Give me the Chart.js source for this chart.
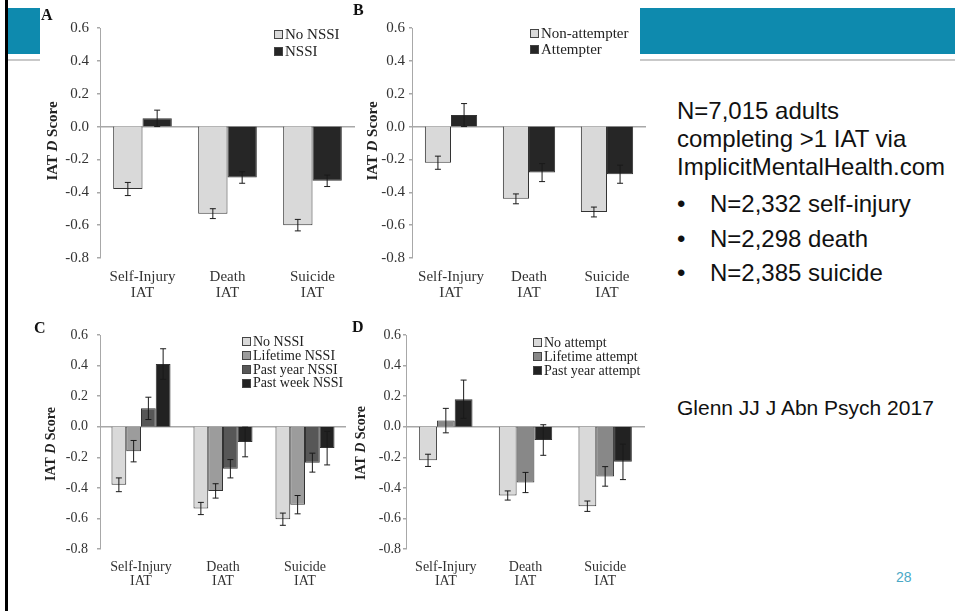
<!DOCTYPE html>
<html>
<head>
<meta charset="utf-8">
<script src="https://cdn.jsdelivr.net/npm/chart.js@4.4.0/dist/chart.umd.min.js"></script>
<style>
  body { margin: 0; width: 955px; height: 611px; position: relative; overflow: hidden; background: #fff; }
  .abs { position: absolute; }
  .band { position: absolute; background: #0e8aae; top: 8px; height: 46px; }
  .rule { position: absolute; background: #c9c9c9; top: 59px; height: 2px; }
  .letter { position: absolute; font: bold 16px 'Liberation Serif', serif; color: #111; }
  .ytitle { position: absolute; font-family: 'Liberation Serif', serif; font-weight: bold; color: #222;
            white-space: nowrap; transform: translate(-50%, -50%) rotate(-90deg); }
  .legend { position: absolute; font-family: 'Liberation Serif', serif; color: #222; white-space: nowrap; }
  .legend div { display: flex; align-items: center; }
  .legend span.sw { display: inline-block; width: 7px; height: 7px; border: 1px solid #444; margin-right: 2px; }
  .side { position: absolute; font-family: 'Liberation Sans', Arial, sans-serif; color: #111; }
  canvas { position: absolute; }
</style>
</head>
<body>
<div class="abs" style="left:5px;top:0;width:3px;height:611px;background:#000"></div>
<div class="band" style="left:8px;width:32px"></div>
<div class="rule" style="left:8px;width:32px"></div>
<div class="band" style="left:640px;width:315px"></div>
<div class="rule" style="left:640px;width:315px"></div>

<canvas id="chartA" width="330" height="305" style="left:30px;top:0"></canvas>
<canvas id="chartB" width="310" height="305" style="left:340px;top:0"></canvas>
<canvas id="chartC" width="330" height="301" style="left:30px;top:310px"></canvas>
<canvas id="chartD" width="315" height="301" style="left:340px;top:310px"></canvas>

<div class="letter" style="left:41px;top:6px">A</div>
<div class="letter" style="left:353px;top:1px">B</div>
<div class="letter" style="left:34px;top:319px">C</div>
<div class="letter" style="left:352px;top:318px">D</div>

<div class="ytitle" style="left:52px;top:141px;font-size:15px">IAT <i>D</i> Score</div>
<div class="ytitle" style="left:372px;top:141px;font-size:15px">IAT <i>D</i> Score</div>
<div class="ytitle" style="left:51px;top:444px;font-size:14px">IAT <i>D</i> Score</div>
<div class="ytitle" style="left:361px;top:443px;font-size:14px">IAT <i>D</i> Score</div>

<div class="legend" id="legendA" style="left:274px;top:26px;font-size:15px;line-height:17px"></div>
<div class="legend" id="legendB" style="left:530px;top:25px;font-size:15px;line-height:16px"></div>
<div class="legend" id="legendC" style="left:242px;top:335px;font-size:14px;line-height:13.8px"></div>
<div class="legend" id="legendD" style="left:533px;top:336px;font-size:14px;line-height:13.8px"></div>

<div class="side" style="left:677px;top:97px;font-size:24px;line-height:28px">N=7,015 adults<br>completing &gt;1 IAT via<br>ImplicitMentalHealth.com</div>
<div class="side" style="left:677px;top:187px;font-size:24px;line-height:34.5px">
  <div><span style="display:inline-block;width:33px">•</span>N=2,332 self-injury</div>
  <div><span style="display:inline-block;width:33px">•</span>N=2,298 death</div>
  <div><span style="display:inline-block;width:33px">•</span>N=2,385 suicide</div>
</div>
<div class="side" style="left:677px;top:396px;font-size:21px">Glenn JJ J Abn Psych 2017</div>
<div class="side" style="left:896px;top:569px;font-size:14px;color:#4aa8c6">28</div>

<script>
// categories
const categories = [['Self-Injury', 'IAT'], ['Death', 'IAT'], ['Suicide', 'IAT']];

// panel A: NSSI
const aLabels = ['No NSSI', 'NSSI'];
const aNoNssi = [-0.38, -0.53, -0.60];
const aNoNssiErr = [0.04, 0.03, 0.035];
const aNssi = [0.05, -0.31, -0.33];
const aNssiErr = [0.05, 0.035, 0.035];

// panel B: attempters
const bLabels = ['Non-attempter', 'Attempter'];
const bNonAttempter = [-0.22, -0.44, -0.52];
const bNonAttempterErr = [0.04, 0.03, 0.03];
const bAttempter = [0.07, -0.28, -0.29];
const bAttempterErr = [0.07, 0.055, 0.055];

// panel C: NSSI recency
const cLabels = ['No NSSI', 'Lifetime NSSI', 'Past year NSSI', 'Past week NSSI'];
const cNoNssi = [-0.38, -0.535, -0.605];
const cNoNssiErr = [0.045, 0.04, 0.04];
const cLifetime = [-0.16, -0.42, -0.51];
const cLifetimeErr = [0.07, 0.047, 0.06];
const cPastYear = [0.12, -0.275, -0.235];
const cPastYearErr = [0.073, 0.06, 0.062];
const cPastWeek = [0.41, -0.10, -0.14];
const cPastWeekErr = [0.10, 0.097, 0.11];

// panel D: attempt recency
const dLabels = ['No attempt', 'Lifetime attempt', 'Past year attempt'];
const dNoAttempt = [-0.22, -0.45, -0.52];
const dNoAttemptErr = [0.04, 0.03, 0.034];
const dLifetime = [0.04, -0.365, -0.325];
const dLifetimeErr = [0.08, 0.066, 0.064];
const dPastYear = [0.18, -0.087, -0.23];
const dPastYearErr = [0.125, 0.10, 0.116];

const yMin = -0.8, yMax = 0.6, yStep = 0.2;

const serif = "'Liberation Serif', 'Times New Roman', serif";

// draw the error whiskers on top of every bar
const errorBars = {
  id: 'errorBars',
  afterDatasetsDraw(chart) {
    const ctx = chart.ctx;
    const y = chart.scales.y;
    chart.data.datasets.forEach((ds, i) => {
      chart.getDatasetMeta(i).data.forEach((bar, j) => {
        const top = y.getPixelForValue(ds.data[j] + ds.errors[j]);
        const bot = y.getPixelForValue(ds.data[j] - ds.errors[j]);
        ctx.save();
        ctx.strokeStyle = '#1a1a1a';
        ctx.lineWidth = 1;
        ctx.beginPath();
        ctx.moveTo(bar.x, top); ctx.lineTo(bar.x, bot);
        ctx.moveTo(bar.x - 3, top); ctx.lineTo(bar.x + 3, top);
        ctx.moveTo(bar.x - 3, bot); ctx.lineTo(bar.x + 3, bot);
        ctx.stroke();
        ctx.restore();
      });
    });
  }
};

function buildLegend(id, labels, colors) {
  const box = document.getElementById(id);
  labels.forEach((lab, i) => {
    const row = document.createElement('div');
    const sw = document.createElement('span');
    sw.className = 'sw';
    sw.style.background = colors[i];
    row.appendChild(sw);
    row.appendChild(document.createTextNode(lab));
    box.appendChild(row);
  });
}

function makePanel(id, labels, series, errors, colors, g) {
  const datasets = series.map((vals, i) => ({
    label: labels[i],
    data: vals,
    errors: errors[i],
    backgroundColor: colors[i],
    borderColor: '#333',
    borderWidth: 1,
    categoryPercentage: g.cat,
    barPercentage: 1
  }));
  return new Chart(document.getElementById(id), {
    type: 'bar',
    data: { labels: categories, datasets: datasets },
    options: {
      responsive: false,
      animation: false,
      layout: { padding: { top: g.top, right: g.right, left: 0, bottom: 0 } },
      plugins: { legend: { display: false }, tooltip: { enabled: false } },
      scales: {
        x: {
          grid: { display: false, drawTicks: false },
          border: { display: false },
          ticks: { font: { family: serif, size: g.xFont, lineHeight: g.xLine }, color: '#333', padding: g.xPad, maxRotation: 0 },
          afterFit: s => { s.height = g.h - g.bottom; }
        },
        y: {
          min: yMin,
          max: yMax,
          ticks: {
            stepSize: yStep,
            font: { family: serif, size: g.yFont },
            color: '#333',
            padding: g.yPad,
            callback: v => (Math.abs(v) < 1e-9 ? 0 : v).toFixed(1)
          },
          grid: {
            color: c => Math.abs(c.tick.value) < 1e-9 ? '#a8a8a8' : 'rgba(0,0,0,0)',
            lineWidth: 1.5,
            tickColor: '#a8a8a8',
            tickLength: 3
          },
          border: { color: '#a8a8a8', width: 1 },
          afterFit: s => { s.width = g.left; }
        }
      }
    },
    plugins: [errorBars]
  });
}

const colA = ['#d9d9d9', '#262626'];
const colB = ['#d9d9d9', '#262626'];
const colC = ['#d9d9d9', '#9c9c9c', '#575757', '#222222'];
const colD = ['#d9d9d9', '#888888', '#222222'];

makePanel('chartA', aLabels, [aNoNssi, aNssi], [aNoNssiErr, aNssiErr], colA,
  { h: 305, left: 70, right: 5, top: 28, bottom: 258, cat: 0.69, xFont: 15, xLine: 1.05, xPad: 11, yFont: 15, yPad: 8 });
makePanel('chartB', bLabels, [bNonAttempter, bAttempter], [bNonAttempterErr, bAttempterErr], colB,
  { h: 305, left: 72, right: 4, top: 28, bottom: 258, cat: 0.67, xFont: 15, xLine: 1.05, xPad: 11, yFont: 15, yPad: 4 });
makePanel('chartC', cLabels, [cNoNssi, cLifetime, cPastYear, cPastWeek], [cNoNssiErr, cLifetimeErr, cPastYearErr, cPastWeekErr], colC,
  { h: 301, left: 70, right: 14, top: 25, bottom: 239, cat: 0.72, xFont: 14, xLine: 0.95, xPad: 12, yFont: 14, yPad: 9 });
makePanel('chartD', dLabels, [dNoAttempt, dLifetime, dPastYear], [dNoAttemptErr, dLifetimeErr, dPastYearErr], colD,
  { h: 301, left: 66, right: 10, top: 25, bottom: 239, cat: 0.67, xFont: 14, xLine: 0.95, xPad: 12, yFont: 14, yPad: 2 });

buildLegend('legendA', aLabels, colA);
buildLegend('legendB', bLabels, colB);
buildLegend('legendC', cLabels, colC);
buildLegend('legendD', dLabels, colD);
</script>
</body>
</html>
